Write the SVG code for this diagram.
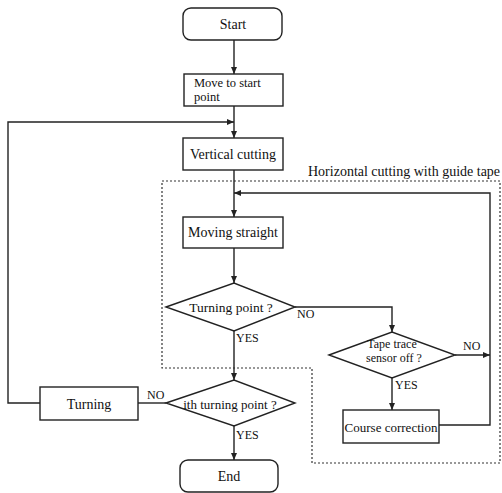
<svg xmlns="http://www.w3.org/2000/svg" width="502" height="493" viewBox="0 0 502 493">
<defs>
<marker id="ah" markerWidth="8" markerHeight="6" refX="7" refY="3" orient="auto" markerUnits="userSpaceOnUse">
<path d="M0,0 L7,3 L0,6 z" fill="#222"/>
</marker>
<style>
.n{fill:#fff;stroke:#222;stroke-width:1.4}
.t{font-family:"Liberation Serif","DejaVu Serif",serif;font-size:14px;fill:#111;text-anchor:middle;dominant-baseline:central}
.l{font-family:"Liberation Serif","DejaVu Serif",serif;font-size:12px;fill:#111}
.c{fill:none;stroke:#222;stroke-width:1.4}
.d{fill:none;stroke:#333;stroke-width:1.2;stroke-dasharray:2,2}
</style>
</defs>
<rect width="502" height="493" fill="#fff"/>
<g id="group-box">
<path class="d" d="M162,181 H500 V463 H312 V368 H162 Z"/>
<text class="l" x="308" y="176" style="font-size:14px">Horizontal cutting with guide tape</text>
</g>
<g id="connectors">
<path class="c" d="M234,40 V74" marker-end="url(#ah)"/>
<path class="c" d="M234,106 V138" marker-end="url(#ah)"/>
<path class="c" d="M40,403 H8 V122 H234" marker-end="url(#ah)"/>
<path class="c" d="M234,170 V217" marker-end="url(#ah)"/>
<path class="c" d="M439,425 H490 V193 H234" marker-end="url(#ah)"/>
<path class="c" d="M234,248 V283" marker-end="url(#ah)"/>
<path class="c" d="M295,307 H392 V332" marker-end="url(#ah)"/>
<path class="c" d="M455,355 H490" marker-end="url(#ah)"/>
<path class="c" d="M392,378 V410" marker-end="url(#ah)"/>
<path class="c" d="M234,331 V380" marker-end="url(#ah)"/>
<path class="c" d="M166,403 H138"/>
<path class="c" d="M234,426 V460" marker-end="url(#ah)"/>
<text class="l" x="297" y="318">NO</text>
<text class="l" x="236" y="342">YES</text>
<text class="l" x="463" y="350">NO</text>
<text class="l" x="395" y="389">YES</text>
<text class="l" x="147" y="399">NO</text>
<text class="l" x="236" y="439">YES</text>
</g>
<g id="start"><rect class="n" x="183" y="8" width="99" height="32" rx="8"/><text class="t" x="233" y="24">Start</text></g>
<g id="move"><rect class="n" x="184" y="74" width="99" height="32"/><text class="t" x="194" y="83" style="text-anchor:start;font-size:12.5px">Move to start</text><text class="t" x="194" y="97" style="text-anchor:start;font-size:12.5px">point</text></g>
<g id="vertical"><rect class="n" x="183" y="138" width="100" height="32"/><text class="t" x="233" y="154">Vertical cutting</text></g>
<g id="moving"><rect class="n" x="183" y="217" width="100" height="31"/><text class="t" x="233" y="232">Moving straight</text></g>
<g id="turnpoint"><path class="n" d="M166,307 L234,283 L295,307 L234,331 Z"/><text class="t" x="231" y="307" style="font-size:13.5px">Turning point ?</text></g>
<g id="tape"><path class="n" d="M329,355 L392,332 L455,355 L392,378 Z"/><text class="t" x="392" y="344" style="font-size:12px">Tape trace</text><text class="t" x="394" y="358" style="font-size:12px">sensor off ?</text></g>
<g id="course"><rect class="n" x="343" y="410" width="96" height="33"/><text class="t" x="391" y="427" style="font-size:13px">Course correction</text></g>
<g id="ith"><path class="n" d="M166,403 L234,380 L295,403 L234,426 Z"/><text class="t" x="230" y="404" style="font-size:13px">ith turning point ?</text></g>
<g id="turning"><rect class="n" x="40" y="387" width="98" height="33"/><text class="t" x="89" y="404">Turning</text></g>
<g id="end"><rect class="n" x="180" y="460" width="98" height="32" rx="8"/><text class="t" x="229" y="476">End</text></g>
</svg>
